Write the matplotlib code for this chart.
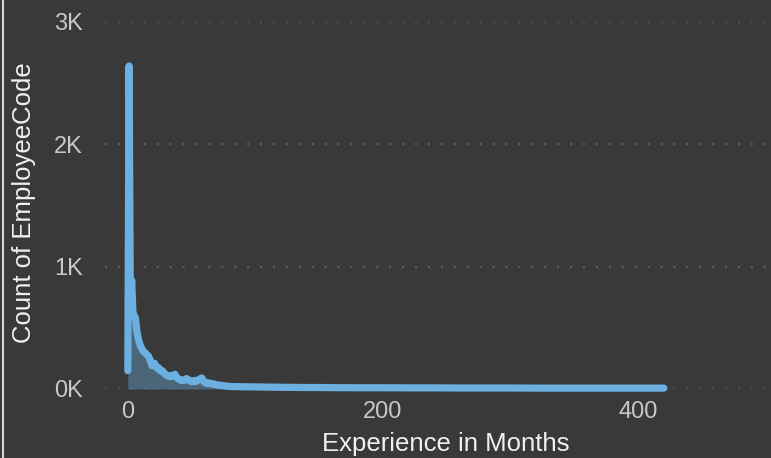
import matplotlib
matplotlib.use("Agg")
import matplotlib.pyplot as plt
from matplotlib.lines import Line2D

plt.rcParams['font.family'] = ['Liberation Sans', 'DejaVu Sans']

# months of experience vs. count of employees
months_head = list(range(0, 81))
counts_head = [150, 2640, 620, 890, 620, 600, 580, 480, 420, 380,
               350, 330, 310, 300, 290, 280, 270, 250, 220, 190,
               200, 210, 185, 170, 175, 155, 145, 150, 135, 125,
               115, 110, 105, 100, 110, 105, 115, 120, 100, 85,
               80, 75, 70, 72, 70, 75, 85, 80, 70, 65,
               60, 65, 60, 70, 65, 70, 80, 85, 90, 70,
               55, 50, 45, 50, 48, 45, 40, 42, 38, 35,
               33, 32, 30, 30, 28, 27, 25, 24, 22, 22,
               20]
months_tail = [90, 100, 110, 120, 130, 140, 150, 160, 180, 200,
               220, 240, 260, 280, 300, 320, 340, 360, 380, 400, 420]
counts_tail = [18, 17, 15, 14, 13, 12, 12, 11, 10, 10,
               9, 9, 8, 8, 8, 7, 7, 7, 7, 7, 7]

months = months_head + months_tail
counts = counts_head + counts_tail

x_ticks = [0, 200, 400]
y_ticks = [0, 1000, 2000, 3000]
y_labels = ['0K', '1K', '2K', '3K']

bg = '#393939'
line_color = '#6cb0e2'

fig = plt.figure(figsize=(7.71, 4.58), dpi=100, facecolor=bg)
ax = fig.add_axes([0.136, 0.1507, 0.864, 0.8013])
ax.set_facecolor(bg)

ax.fill_between(months, counts, 0, color=line_color, alpha=0.38, linewidth=0, zorder=2)
ax.plot(months, counts, color=line_color, linewidth=5.2, solid_capstyle='round',
        solid_joinstyle='round', clip_on=False, zorder=3)

ax.set_xlim(-18, 504)
ax.set_ylim(0, 3000)
ax.set_xticks(x_ticks)
ax.set_yticks(y_ticks)
ax.set_yticklabels(y_labels)
ax.grid(axis='y', color='#5e5e5e', linestyle=(0, (1, 5.2)), linewidth=1.5, zorder=1)
ax.grid(axis='x', visible=False)
for s in ax.spines.values():
    s.set_visible(False)
ax.tick_params(length=0, colors='#c8c8c8', labelsize=17)
ax.tick_params(axis='y', pad=16)
ax.tick_params(axis='x', pad=9)

ax.set_xlabel('Experience in Months', color='#f0f0f0', fontsize=18.5, va='center')
ax.xaxis.set_label_coords(0.512, -0.15)
ax.set_ylabel('Count of EmployeeCode', color='#f0f0f0', fontsize=18.5, va='center')
ax.yaxis.set_label_coords(-0.1216, 0.508)

# left border of the visual
fig.add_artist(Line2D([0.004, 0.004], [0, 1], color='#d8d8d8', linewidth=1.5,
                      transform=fig.transFigure))

fig.savefig('out.png', dpi=100, facecolor=bg)
